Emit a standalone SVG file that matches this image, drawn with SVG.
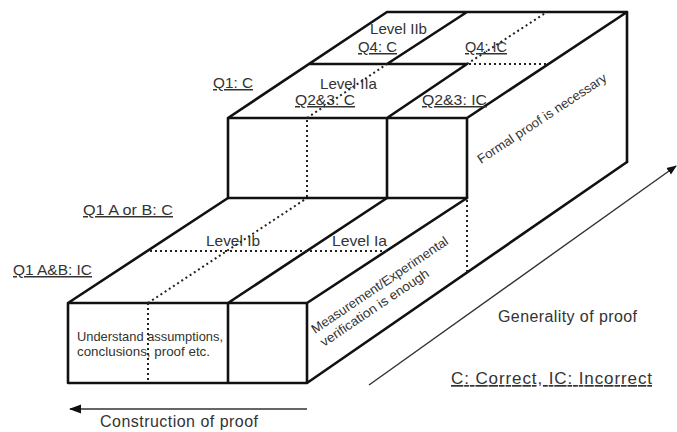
<svg xmlns="http://www.w3.org/2000/svg" width="677" height="432" viewBox="0 0 677 432">
<defs>
<style>
.e{stroke:#111;stroke-width:2.6;fill:none;stroke-linecap:round;stroke-linejoin:round}
.d{stroke:#222;stroke-width:2;fill:none;stroke-dasharray:2 3}
.t{stroke:#333;stroke-width:1.4;fill:none}
text{font-family:"Liberation Sans",Arial,sans-serif;fill:#333}
.l{font-size:15px}
.u{text-decoration:underline}
.s{font-size:13px}
.b{font-size:16px}
</style>
<marker id="ah" viewBox="0 0 10 10" refX="9" refY="5" markerWidth="10" markerHeight="10" markerUnits="userSpaceOnUse" orient="auto">
<path d="M0,1 L10,5 L0,9 z" fill="#111"/>
</marker>
<marker id="ah2" viewBox="0 0 12 10" refX="11" refY="5" markerWidth="13" markerHeight="10" markerUnits="userSpaceOnUse" orient="auto">
<path d="M0,0.5 L12,5 L0,9.5 z" fill="#111"/>
</marker>
</defs>
<rect width="677" height="432" fill="#fff"/>

<g id="lower-step">
<path class="e" d="M68,303 H307 V383 H68 Z M228,303 V383 M68,303 L228,198 M228,303 L387,198 M307,303 L467,198 M307,383 L627,162"/>
<path class="d" d="M148,303 V383 M148,303 L307,198 M150,251 H388 M467,200 V272"/>
</g>

<g id="upper-step">
<path class="e" d="M228,118 H467 V198 H228 Z M387,118 V198 M228,118 L387,12 H627 V162 M467,118 L627,12 M310,64 H467 M387,64 L467,12 M387,118 L467,64"/>
<path class="d" d="M307,120 V198 M307,118 L387,64 M469,64 H548 M467,64 L547,12"/>
</g>

<g id="connectors">
<line class="t" x1="369" y1="385" x2="676" y2="166" marker-end="url(#ah)"/>
<line class="t" x1="307" y1="409" x2="70" y2="409" marker-end="url(#ah2)"/>
</g>

<g id="labels">
<text class="l u" x="213" y="88" textLength="40" lengthAdjust="spacingAndGlyphs">Q1: C</text>
<text class="l u" x="83" y="215" textLength="90" lengthAdjust="spacingAndGlyphs">Q1 A or B: C</text>
<text class="l u" x="13" y="275" textLength="79" lengthAdjust="spacingAndGlyphs">Q1 A&amp;B: IC</text>
<text class="l" x="370" y="34" textLength="57" lengthAdjust="spacingAndGlyphs">Level IIb</text>
<text class="l u" x="358" y="52" textLength="39" lengthAdjust="spacingAndGlyphs">Q4: C</text>
<text class="l u" x="465" y="52" textLength="42" lengthAdjust="spacingAndGlyphs">Q4: IC</text>
<text class="l" x="320" y="89" textLength="57" lengthAdjust="spacingAndGlyphs">Level IIa</text>
<text class="l u" x="295" y="105" textLength="60" lengthAdjust="spacingAndGlyphs">Q2&amp;3: C</text>
<text class="l u" x="422" y="105" textLength="65" lengthAdjust="spacingAndGlyphs">Q2&amp;3: IC</text>
<text class="l" x="206" y="246" textLength="54" lengthAdjust="spacingAndGlyphs">Level Ib</text>
<text class="l" x="332" y="246" textLength="55" lengthAdjust="spacingAndGlyphs">Level Ia</text>
<text class="s" x="77" y="341" textLength="146" lengthAdjust="spacingAndGlyphs">Understand assumptions,</text>
<text class="s" x="77" y="356" textLength="133" lengthAdjust="spacingAndGlyphs">conclusions, proof etc.</text>
<text class="s" transform="translate(481,164) rotate(-33.5)" textLength="152" lengthAdjust="spacingAndGlyphs">Formal proof is necessary</text>
<text class="s" transform="translate(315,334) rotate(-34)" textLength="162" lengthAdjust="spacingAndGlyphs">Measurement/Experimental</text>
<text class="s" transform="translate(324,347) rotate(-34)" textLength="128" lengthAdjust="spacingAndGlyphs">verification is enough</text>
<text class="b" x="100" y="427" textLength="158" lengthAdjust="spacing">Construction of proof</text>
<text class="b" x="498" y="322" textLength="139" lengthAdjust="spacing">Generality of proof</text>
<text class="b u" x="451" y="384" font-size="17" style="font-size:17px" textLength="201" lengthAdjust="spacing">C: Correct, IC: Incorrect</text>
</g>
</svg>
